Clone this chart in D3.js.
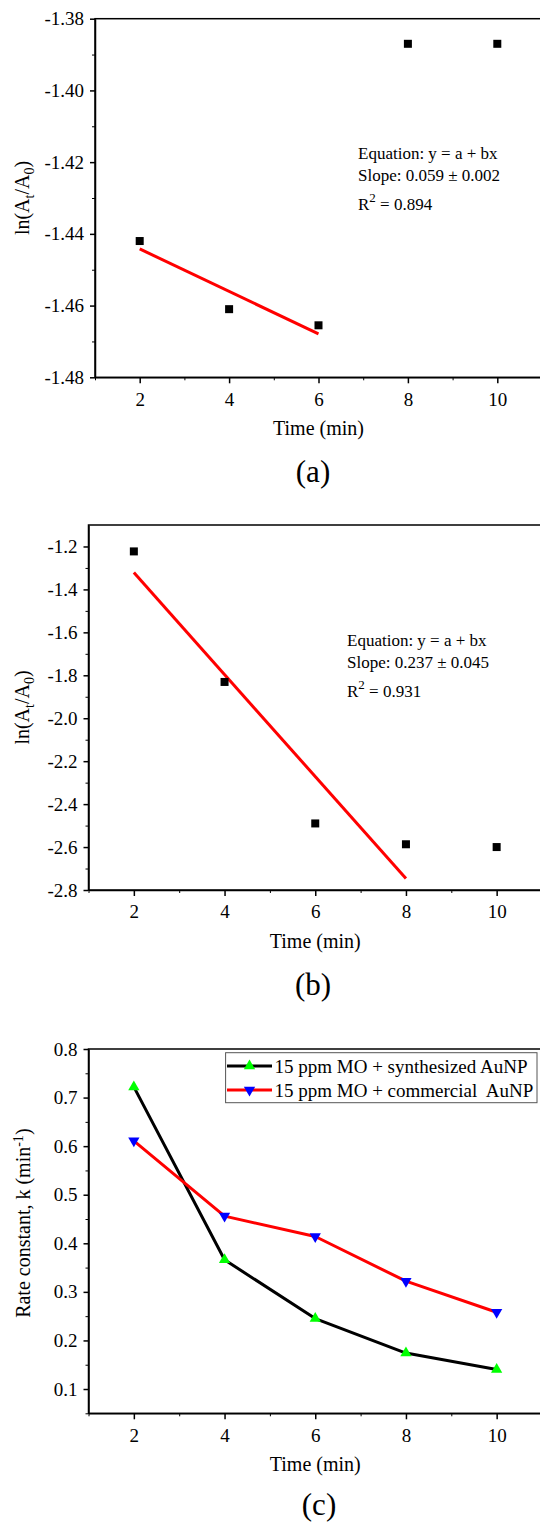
<!DOCTYPE html>
<html>
<head>
<meta charset="utf-8">
<script src="https://cdn.jsdelivr.net/npm/d3@7"></script>
<style>
  body { margin: 0; background: #fff; }
  svg { display: block; }
  text { font-family: 'Liberation Serif', 'Times New Roman', serif; fill: #000; }
</style>
</head>
<body>
<div id="chart"></div>
<script>
// shared x values (Time, min)
const timeMin = [2, 4, 6, 8, 10];
const xTicks = [2, 4, 6, 8, 10];
const xMinorTicks = [1, 3, 5, 7, 9, 11];

// panel (a)
const lnRatioA = [-1.442, -1.461, -1.4655, -1.387, -1.387];
const fitTimeA = [2, 6];
const fitLnA = [-1.4442, -1.4679];
const yTicksA = [-1.48, -1.46, -1.44, -1.42, -1.40, -1.38];
const yMinorA = [-1.47, -1.45, -1.43, -1.41, -1.39];
const eqTextA = ['Equation: y = a + bx', 'Slope: 0.059 \u00b1 0.002', '0.894'];

// panel (b)
const lnRatioB = [-1.223, -1.831, -2.490, -2.587, -2.600];
const fitTimeB = [2, 8];
const fitLnB = [-1.321, -2.747];
const yTicksB = [-2.8, -2.6, -2.4, -2.2, -2.0, -1.8, -1.6, -1.4, -1.2];
const yMinorB = [-2.7, -2.5, -2.3, -2.1, -1.9, -1.7, -1.5, -1.3];
const eqTextB = ['Equation: y = a + bx', 'Slope: 0.237 \u00b1 0.045', '0.931'];

// panel (c)
const kSynth = [0.722, 0.366, 0.245, 0.174, 0.140];
const kComm = [0.611, 0.456, 0.414, 0.322, 0.258];
const yTicksC = [0.1, 0.2, 0.3, 0.4, 0.5, 0.6, 0.7, 0.8];
const yMinorC = [0.05, 0.15, 0.25, 0.35, 0.45, 0.55, 0.65, 0.75];
const seriesNames = ['15 ppm MO + synthesized AuNP', '15 ppm MO + commercial\u00a0 AuNP'];

const W = 540, H = 1523;
const svg = d3.select('#chart').append('svg').attr('width', W).attr('height', H);

// draws the frame, axes and labels of one panel, returns its scales
function drawPanel(p) {
  const x = d3.scaleLinear().domain([1, 11]).range([p.left, p.right]);
  const y = d3.scaleLinear().domain(p.yDomain).range([p.bottom, p.top]);
  const g = svg.append('g');

  g.append('rect')
    .attr('x', p.left).attr('y', p.top)
    .attr('width', p.right - p.left).attr('height', p.bottom - p.top)
    .attr('fill', 'none').attr('stroke', '#000').attr('stroke-width', 1.5);

  // minor ticks
  g.append('g')
    .attr('transform', `translate(0,${p.bottom})`)
    .call(d3.axisBottom(x).tickValues(xMinorTicks).tickSize(3).tickFormat(''))
    .call((s) => s.select('.domain').remove());
  g.append('g')
    .attr('transform', `translate(${p.left},0)`)
    .call(d3.axisLeft(y).tickValues(p.yMinor).tickSize(3).tickFormat(''))
    .call((s) => s.select('.domain').remove());

  // major ticks
  const xAxis = g.append('g')
    .attr('transform', `translate(0,${p.bottom})`)
    .call(d3.axisBottom(x).tickValues(xTicks).tickSize(6).tickPadding(9).tickSizeOuter(0));
  const yAxis = g.append('g')
    .attr('transform', `translate(${p.left},0)`)
    .call(d3.axisLeft(y).tickValues(p.yTicks).tickSize(5).tickPadding(6).tickSizeOuter(0)
      .tickFormat((d) => d.toFixed(p.digits)));

  [xAxis, yAxis].forEach((a) => {
    a.attr('font-family', null).attr('font-size', null);
    a.selectAll('text').attr('font-size', '19px');
    a.selectAll('line, path').attr('stroke', '#000').attr('stroke-width', 1.5);
  });

  // x label
  g.append('text')
    .attr('x', (p.left + p.right) / 2)
    .attr('y', p.bottom + 58)
    .attr('text-anchor', 'middle')
    .attr('font-size', '20px')
    .text('Time (min)');

  // panel letter
  g.append('text')
    .attr('x', p.letterX)
    .attr('y', p.bottom + p.letterDy)
    .attr('text-anchor', 'middle')
    .attr('font-size', '31px')
    .text(p.letter);

  return { x, y, g };
}

function lnLabel(g, p) {
  const t = g.append('text')
    .attr('transform', `translate(29,${(p.top + p.bottom) / 2}) rotate(-90)`)
    .attr('text-anchor', 'middle')
    .attr('font-size', '20px');
  t.append('tspan').text('ln(A');
  t.append('tspan').attr('font-size', '14px').attr('dy', 5).text('t');
  t.append('tspan').attr('dy', -5).text('/A');
  t.append('tspan').attr('font-size', '14px').attr('dy', 5).text('0');
  t.append('tspan').attr('dy', -5).text(')');
}

function eqLabel(g, lines, x0, y0) {
  const t = g.append('g').attr('font-size', '17px');
  t.append('text').attr('x', x0).attr('y', y0).text(lines[0]);
  t.append('text').attr('x', x0).attr('y', y0 + 22).text(lines[1]);
  const r = t.append('text').attr('x', x0).attr('y', y0 + 51);
  r.append('tspan').text('R');
  r.append('tspan').attr('font-size', '13px').attr('dy', -8).text('2');
  r.append('tspan').attr('dy', 8).text(' = ' + lines[2]);
}

function squares(g, x, y, vals) {
  g.append('g').selectAll('rect')
    .data(timeMin.map((t, i) => [t, vals[i]]))
    .join('rect')
    .attr('x', (d) => x(d[0]) - 4)
    .attr('y', (d) => y(d[1]) - 4)
    .attr('width', 8).attr('height', 8)
    .attr('fill', '#000');
}

function fitLine(g, x, y, ts, vs) {
  g.append('path')
    .datum(ts.map((t, i) => [t, vs[i]]))
    .attr('fill', 'none').attr('stroke', '#ff0000').attr('stroke-width', 3)
    .attr('d', d3.line().x((d) => x(d[0])).y((d) => y(d[1])));
}

// ---- (a)
const pA = { left: 95, right: 542, top: 18.7, bottom: 377.3, yDomain: [-1.48, -1.38],
  yTicks: yTicksA, yMinor: yMinorA, digits: 2, letter: '(a)', letterX: 313, letterDy: 105 };
const A = drawPanel(pA);
lnLabel(A.g, pA);
fitLine(A.g, A.x, A.y, fitTimeA, fitLnA);
squares(A.g, A.x, A.y, lnRatioA);
eqLabel(A.g, eqTextA, 358, 158.5);

// ---- (b)
const pB = { left: 88.5, right: 542, top: 525, bottom: 890, yDomain: [-2.8, -1.1],
  yTicks: yTicksB, yMinor: yMinorB, digits: 1, letter: '(b)', letterX: 313, letterDy: 105 };
const B = drawPanel(pB);
lnLabel(B.g, pB);
fitLine(B.g, B.x, B.y, fitTimeB, fitLnB);
squares(B.g, B.x, B.y, lnRatioB);
eqLabel(B.g, eqTextB, 347, 646);

// ---- (c)
const pC = { left: 88.5, right: 542, top: 1049, bottom: 1413.3, yDomain: [0.05, 0.8],
  yTicks: yTicksC, yMinor: yMinorC, digits: 1, letter: '(c)', letterX: 319, letterDy: 102 };
const C = drawPanel(pC);

const rc = C.g.append('text')
  .attr('transform', `translate(30,${(pC.top + pC.bottom) / 2 - 8}) rotate(-90)`)
  .attr('text-anchor', 'middle')
  .attr('font-size', '20px');
rc.append('tspan').text('Rate constant, k (min');
rc.append('tspan').attr('font-size', '14px').attr('dy', -7).text('-1');
rc.append('tspan').attr('dy', 7).text(')');

const series = [
  { name: seriesNames[0], vals: kSynth, line: '#000000', mark: '#00ff00', up: true },
  { name: seriesNames[1], vals: kComm, line: '#ff0000', mark: '#0000ff', up: false },
];

const triUp = d3.symbol().type(d3.symbolTriangle).size(55);
const triPath = (up) => (up ? triUp() : triUp());

series.forEach((s) => {
  const pts = timeMin.map((t, i) => [t, s.vals[i]]);
  C.g.append('path')
    .datum(pts)
    .attr('fill', 'none').attr('stroke', s.line).attr('stroke-width', 3)
    .attr('stroke-linejoin', 'round')
    .attr('d', d3.line().x((d) => C.x(d[0])).y((d) => C.y(d[1])));
  C.g.append('g').selectAll('path')
    .data(pts)
    .join('path')
    .attr('d', triPath(s.up))
    .attr('transform', (d) => `translate(${C.x(d[0])},${C.y(d[1])})${s.up ? '' : ' rotate(180)'}`)
    .attr('fill', s.mark);
});

// legend
const leg = C.g.append('g');
leg.append('rect')
  .attr('x', 225.6).attr('y', 1052.7).attr('width', 311.4).attr('height', 50)
  .attr('fill', '#fff').attr('stroke', '#555').attr('stroke-width', 1);
series.forEach((s, i) => {
  const cy = 1066 + i * 24;
  leg.append('line')
    .attr('x1', 227).attr('x2', 272).attr('y1', cy).attr('y2', cy)
    .attr('stroke', s.line).attr('stroke-width', 3);
  leg.append('path')
    .attr('d', triPath(s.up))
    .attr('transform', `translate(249.5,${cy})${s.up ? '' : ' rotate(180)'}`)
    .attr('fill', s.mark);
  leg.append('text')
    .attr('x', 274.5).attr('y', cy + 6.5)
    .attr('font-size', '19px')
    .attr('xml:space', 'preserve')
    .text(s.name);
});
</script>
</body>
</html>
